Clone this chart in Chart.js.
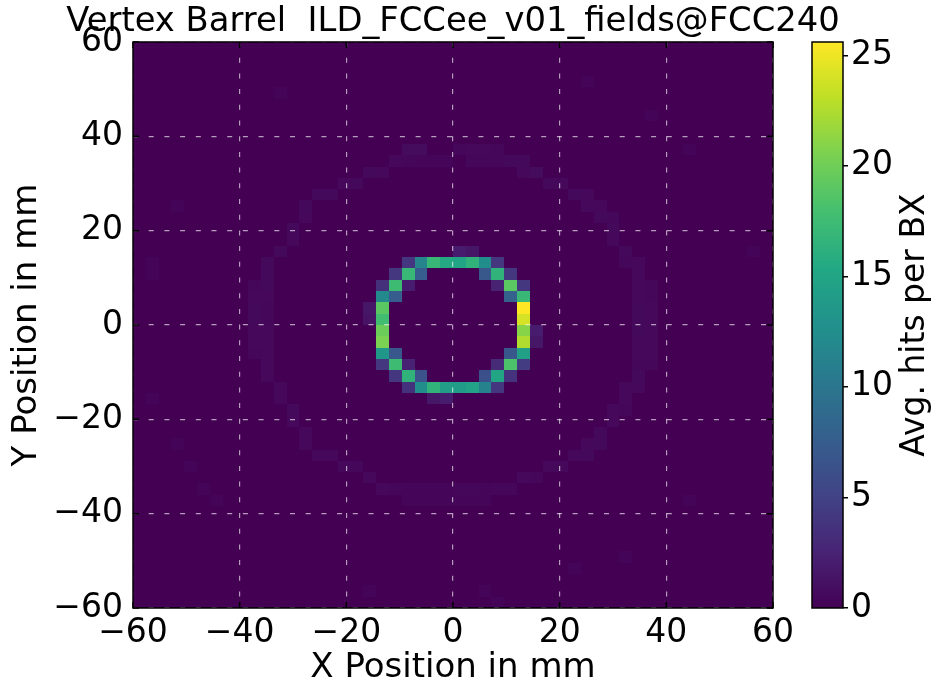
<!DOCTYPE html>
<html>
<head>
<meta charset="utf-8">
<script src="https://cdn.jsdelivr.net/npm/chart.js@4.4.0/dist/chart.umd.min.js"></script>
<style>
  html, body { margin: 0; padding: 0; background: #fff; }
  #wrap { position: relative; width: 936px; height: 689px; }
  #main { position: absolute; left: 0; top: 0; }
  #cbar { position: absolute; left: 780px; top: 0; }
</style>
</head>
<body>
<div id="wrap">
  <canvas id="main" width="906" height="689"></canvas>
  <canvas id="cbar" width="156" height="689"></canvas>
</div>
<script>
// histogram range and binning (mm)
const AXIS_MIN = -60;
const AXIS_MAX = 60;
const NBINS = 50;
const axisStep = 20;

const colorbarMax = 25.6;
const colorbarTicks = [0, 5, 10, 15, 20, 25];

// cells as [xBin, yBin, avg hits per BX], bin 0 starts at -60 mm
const innerLayer = [
  [25, 31, 2.0], [26, 31, 1.5],
  [21, 30, 4], [22, 30, 11.5], [23, 30, 17], [24, 30, 15.5], [25, 30, 15], [26, 30, 16.5], [27, 30, 12.5], [28, 30, 4],
  [20, 29, 4], [21, 29, 17], [22, 29, 7.5], [27, 29, 7], [28, 29, 16.5], [29, 29, 4],
  [19, 28, 3.5], [20, 28, 17.5], [21, 28, 2], [28, 28, 2.5], [29, 28, 19], [30, 28, 4],
  [19, 27, 12], [20, 27, 7.5], [29, 27, 8], [30, 27, 17],
  [18, 26, 1.5], [19, 26, 19], [30, 26, 25.6],
  [18, 25, 1.3], [19, 25, 17.7], [30, 25, 24],
  [19, 24, 19.8], [30, 24, 21], [31, 24, 2],
  [19, 23, 20.5], [30, 23, 22.5], [31, 23, 1.5],
  [19, 22, 13.5], [20, 22, 7], [29, 22, 7], [30, 22, 14.5],
  [19, 21, 4], [20, 21, 17.5], [21, 21, 2.5], [28, 21, 3], [29, 21, 18.3], [30, 21, 4.5],
  [20, 20, 4], [21, 20, 16.5], [22, 20, 6.5], [27, 20, 6.3], [28, 20, 15], [29, 20, 3.8],
  [21, 19, 3.7], [22, 19, 12.5], [23, 19, 16.5], [24, 19, 14.2], [25, 19, 14], [26, 19, 14.7], [27, 19, 11.3], [28, 19, 4],
  [23, 18, 1.5], [24, 18, 2]
];

const outerLayer = [
  [21, 40, 0.7], [22, 40, 0.7], [25, 40, 0.45], [26, 40, 0.5], [27, 40, 0.5], [28, 40, 0.45],
  [20, 39, 0.5], [21, 39, 0.45], [22, 39, 0.4], [23, 39, 0.4], [24, 39, 0.4], [26, 39, 0.45], [27, 39, 0.45], [28, 39, 0.45], [29, 39, 0.6], [30, 39, 0.6],
  [18, 38, 0.6], [19, 38, 0.5], [30, 38, 0.5], [31, 38, 0.7],
  [16, 37, 0.5], [17, 37, 0.6], [32, 37, 0.6], [33, 37, 0.5],
  [14, 36, 0.6], [15, 36, 0.6], [34, 36, 0.6], [35, 36, 0.5],
  [13, 35, 0.6], [35, 35, 0.5], [36, 35, 0.5],
  [13, 34, 0.5], [36, 34, 0.6], [37, 34, 0.45],
  [12, 33, 0.6], [37, 33, 0.6],
  [12, 32, 0.5], [37, 32, 0.5],
  [11, 31, 0.6], [38, 31, 0.6],
  [10, 30, 0.6], [38, 30, 0.45], [39, 30, 0.5],
  [10, 29, 0.6], [39, 29, 0.5],
  [9, 28, 0.45], [10, 28, 0.6], [39, 28, 0.5], [40, 28, 0.45],
  [9, 27, 0.5], [10, 27, 0.5], [39, 27, 0.5], [40, 27, 0.45],
  [9, 26, 0.6], [10, 26, 0.45], [39, 26, 0.6], [40, 26, 0.5],
  [9, 25, 0.6], [10, 25, 0.45], [39, 25, 0.6], [40, 25, 0.5],
  [9, 24, 0.5], [10, 24, 0.5], [39, 24, 0.6], [40, 24, 0.5],
  [9, 23, 0.5], [10, 23, 0.5], [39, 23, 0.5], [40, 23, 0.5],
  [9, 22, 0.45], [10, 22, 0.5], [39, 22, 0.5], [40, 22, 0.5],
  [10, 21, 0.5], [39, 21, 0.45], [40, 21, 0.45],
  [10, 20, 0.5], [39, 20, 0.6],
  [11, 19, 0.5], [38, 19, 0.5], [39, 19, 0.5],
  [11, 18, 0.5], [38, 18, 0.5],
  [12, 17, 0.6], [37, 17, 0.5], [38, 17, 0.45],
  [12, 16, 0.5], [37, 16, 0.5],
  [13, 15, 0.5], [36, 15, 0.6],
  [13, 14, 0.5], [35, 14, 0.5], [36, 14, 0.6],
  [14, 13, 0.5], [15, 13, 0.5], [34, 13, 0.5], [35, 13, 0.6],
  [16, 12, 0.5], [17, 12, 0.45], [32, 12, 0.5], [33, 12, 0.5],
  [18, 11, 0.5], [30, 11, 0.5], [31, 11, 0.45],
  [19, 10, 0.5], [20, 10, 0.45], [21, 10, 0.4], [22, 10, 0.4], [23, 10, 0.4], [24, 10, 0.4], [25, 10, 0.45], [26, 10, 0.45], [27, 10, 0.4], [28, 10, 0.45], [29, 10, 0.45],
  [21, 9, 0.4], [22, 9, 0.4], [23, 9, 0.4], [24, 9, 0.4], [25, 9, 0.4], [26, 9, 0.4], [27, 9, 0.4]
];

const strayHits = [
  [11, 45, 0.3], [3, 35, 0.25], [1, 30, 0.25], [1, 29, 0.25], [3, 14, 0.3], [4, 12, 0.3],
  [5, 10, 0.3], [6, 9, 0.3], [1, 18, 0.25], [18, 1, 0.3], [34, 3, 0.25], [38, 4, 0.25],
  [27, 1, 0.3], [28, 0, 0.25], [43, 9, 0.25], [35, 46, 0.25], [40, 43, 0.25], [43, 40, 0.25], [48, 31, 0.25]
];

const FONT = 'DejaVu Sans';
Chart.defaults.font.family = FONT;
Chart.defaults.color = '#000';

const VIRIDIS = ['#440154', '#482475', '#414487', '#355f8d', '#2a788e', '#21918c',
                 '#22a884', '#44bf70', '#7ad151', '#bddf26', '#fde725'];
const hex = h => [1, 3, 5].map(k => parseInt(h.substr(k, 2), 16));
function viridis(t) {
  t = Math.max(0, Math.min(1, t));
  const p = t * (VIRIDIS.length - 1);
  const k = Math.min(Math.floor(p), VIRIDIS.length - 2);
  const f = p - k;
  const a = hex(VIRIDIS[k]), b = hex(VIRIDIS[k + 1]);
  return 'rgb(' + a.map((c, n) => Math.round(c + (b[n] - c) * f)).join(',') + ')';
}

const binW = (AXIS_MAX - AXIS_MIN) / NBINS;
const counts = [];
for (let j = 0; j < NBINS; j++) counts.push(new Array(NBINS).fill(0));
[...innerLayer, ...outerLayer, ...strayHits].forEach(([i, j, v]) => { counts[j][i] = v; });

const cells = [];
for (let j = 0; j < NBINS; j++) {
  for (let i = 0; i < NBINS; i++) {
    cells.push({ x: AXIS_MIN + (i + 0.5) * binW, y: AXIS_MIN + (j + 0.5) * binW, v: counts[j][i] });
  }
}

const minus = v => String(v).replace('-', '\u2212');

// cells are painted before the scales so the dashed grid lands on top
const heatmap = {
  id: 'heatmap',
  beforeDraw(chart) {
    const { ctx, scales: { x, y } } = chart;
    ctx.save();
    chart.data.datasets[0].data.forEach(c => {
      const x0 = Math.round(x.getPixelForValue(c.x - binW / 2));
      const x1 = Math.round(x.getPixelForValue(c.x + binW / 2));
      const y0 = Math.round(y.getPixelForValue(c.y - binW / 2));
      const y1 = Math.round(y.getPixelForValue(c.y + binW / 2));
      ctx.fillStyle = viridis(c.v / colorbarMax);
      ctx.fillRect(x0, y1, x1 - x0, y0 - y1);
    });
    ctx.restore();
  }
};

// frame and inward ticks on all four sides
const frame = {
  id: 'frame',
  afterDraw(chart) {
    const { ctx, chartArea: a, scales: { x, y } } = chart;
    ctx.save();
    ctx.strokeStyle = '#000';
    ctx.lineWidth = 1.5;
    ctx.beginPath();
    x.ticks.forEach(t => {
      const p = x.getPixelForValue(t.value);
      ctx.moveTo(p, a.bottom); ctx.lineTo(p, a.bottom - 6);
      ctx.moveTo(p, a.top); ctx.lineTo(p, a.top + 6);
    });
    y.ticks.forEach(t => {
      const p = y.getPixelForValue(t.value);
      ctx.moveTo(a.left, p); ctx.lineTo(a.left + 6, p);
      ctx.moveTo(a.right, p); ctx.lineTo(a.right - 6, p);
    });
    ctx.stroke();
    ctx.strokeRect(a.left, a.top, a.width, a.height);
    ctx.restore();
  }
};

const gridOpts = { color: 'rgba(255,255,255,0.62)', lineWidth: 1.2, drawTicks: false };
const tickFont = { family: FONT, size: 33 };

new Chart(document.getElementById('main'), {
  type: 'scatter',
  data: { datasets: [{ data: cells, pointRadius: 0, pointHoverRadius: 0 }] },
  options: {
    responsive: false,
    animation: false,
    events: [],
    plugins: {
      legend: { display: false },
      tooltip: { enabled: false },
      title: {
        display: true,
        text: 'Vertex Barrel  ILD_FCCee_v01_fields@FCC240',
        color: '#000',
        font: { family: FONT, size: 33.8, weight: 'normal', lineHeight: 1.1 },
        padding: { top: 3.8, bottom: 1 }
      }
    },
    scales: {
      x: {
        type: 'linear', min: AXIS_MIN, max: AXIS_MAX,
        afterFit(s) { s.height = 81; },
        ticks: { stepSize: axisStep, font: tickFont, padding: 6, maxRotation: 0, callback: minus },
        grid: gridOpts,
        border: { display: false, dash: [5, 10.7] },
        title: { display: true, text: 'X Position in mm', font: { family: FONT, size: 34 }, padding: { top: 0, bottom: 0 } }
      },
      y: {
        type: 'linear', min: AXIS_MIN, max: AXIS_MAX,
        afterFit(s) { s.width = 133; },
        ticks: { stepSize: axisStep, font: tickFont, padding: 10, callback: minus },
        grid: gridOpts,
        border: { display: false, dash: [5, 10.7] },
        title: { display: true, text: 'Y Position in mm', font: { family: FONT, size: 34 }, padding: { top: 7, bottom: 0 } }
      },
      // empty right axis that only reserves the room taken by the colour bar
      spacer: {
        type: 'linear', position: 'right', min: AXIS_MIN, max: AXIS_MAX,
        afterFit(s) { s.width = 133; },
        ticks: { display: false },
        grid: { display: false },
        border: { display: false }
      }
    }
  },
  plugins: [heatmap, frame]
});

// colour bar
const colorbar = {
  id: 'colorbar',
  beforeDraw(chart) {
    const { ctx, chartArea: a, scales: { y } } = chart;
    const g = ctx.createLinearGradient(0, y.getPixelForValue(0), 0, y.getPixelForValue(colorbarMax));
    VIRIDIS.forEach((c, k) => g.addColorStop(k / (VIRIDIS.length - 1), c));
    ctx.save();
    ctx.fillStyle = g;
    ctx.fillRect(a.left, a.top, a.width, a.height);
    ctx.restore();
  },
  afterDraw(chart) {
    const { ctx, chartArea: a } = chart;
    ctx.save();
    ctx.strokeStyle = '#000';
    ctx.lineWidth = 1.5;
    ctx.strokeRect(a.left, a.top, a.width, a.height);
    ctx.translate(135, (a.top + a.bottom) / 2);
    ctx.rotate(-Math.PI / 2);
    ctx.fillStyle = '#000';
    ctx.font = '33px "' + FONT + '"';
    ctx.textAlign = 'center';
    ctx.textBaseline = 'middle';
    ctx.fillText('Avg. hits per BX', 0, 0);
    ctx.restore();
  }
};

new Chart(document.getElementById('cbar'), {
  type: 'scatter',
  data: { datasets: [] },
  options: {
    responsive: false,
    animation: false,
    events: [],
    layout: { padding: { left: 32, top: 42, bottom: 81 } },
    plugins: { legend: { display: false }, tooltip: { enabled: false } },
    scales: {
      x: { display: false, min: 0, max: 1 },
      y: {
        position: 'right', min: 0, max: colorbarMax,
        afterFit(s) { s.width = 93; },
        afterBuildTicks(s) { s.ticks = colorbarTicks.map(v => ({ value: v })); },
        ticks: { font: tickFont, padding: 3 },
        grid: { drawOnChartArea: false, drawTicks: true, tickLength: 5, color: '#000', lineWidth: 1.5 },
        border: { display: false }
      }
    }
  },
  plugins: [colorbar]
});
</script>
</body>
</html>
